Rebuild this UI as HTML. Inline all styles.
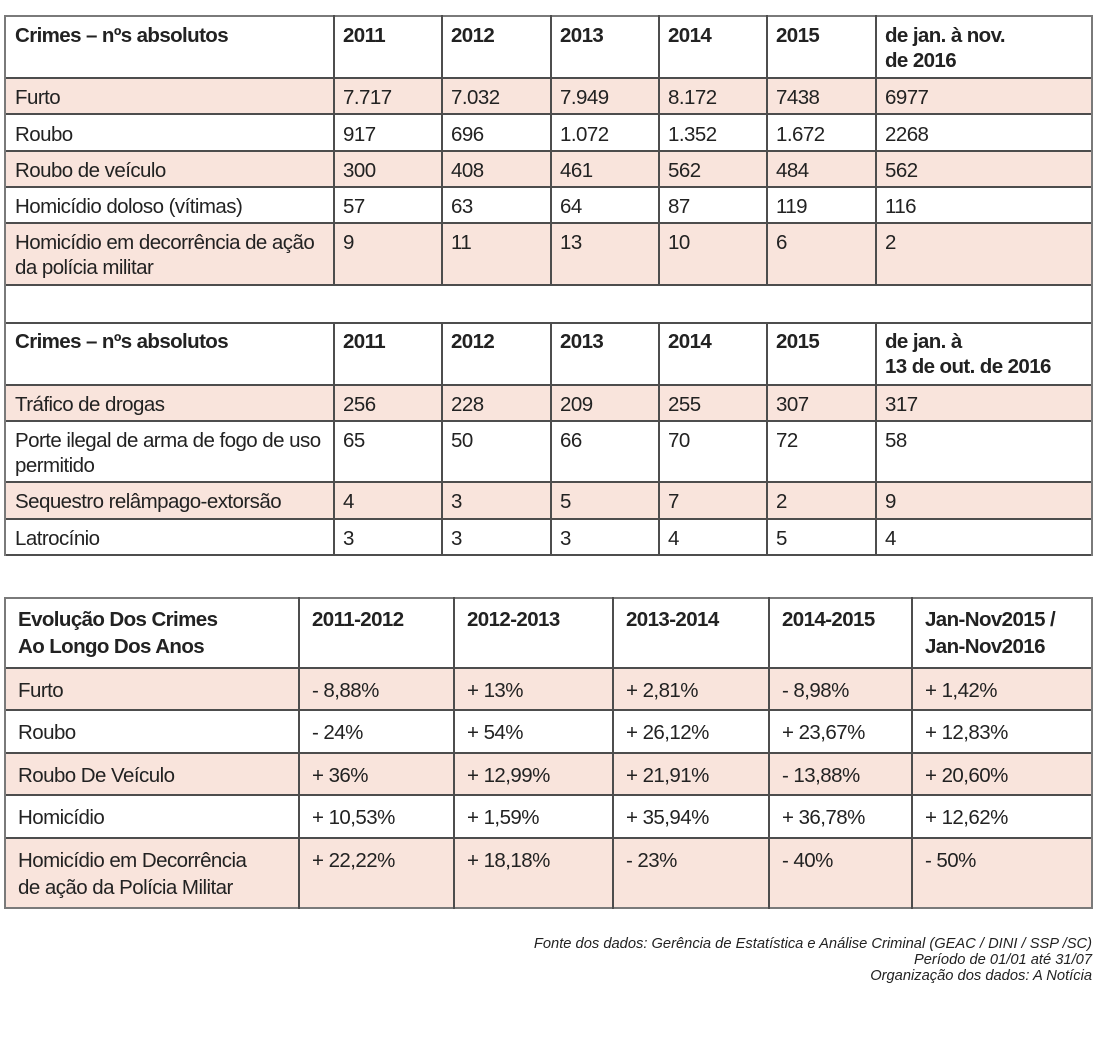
<!DOCTYPE html>
<html><head><meta charset="utf-8">
<style>
html,body{margin:0;padding:0;background:#fff;}
body{width:1095px;height:1063px;position:relative;overflow:hidden;}
.pk{position:absolute;background:#f9e4dc;}
.h{position:absolute;height:2px;background:#4d4d4d;}
.v{position:absolute;width:2px;background:#4d4d4d;}
.o{background:#7a7a7a;}
.t{position:absolute;font-family:"Liberation Sans",sans-serif;font-size:20.5px;line-height:25px;letter-spacing:-0.55px;color:#222;white-space:nowrap;}
.b{font-weight:bold;letter-spacing:-0.6px;}
.q{line-height:27px;}
.f{position:absolute;right:3px;top:937px;text-align:right;font-family:"Liberation Sans",sans-serif;font-style:italic;font-size:14.7px;line-height:15.8px;color:#222;white-space:nowrap;}
</style></head><body>

<!-- TOP TABLE pink rows -->
<div class="pk" style="left:5px;width:1087px;top:78px;height:36px"></div>
<div class="pk" style="left:5px;width:1087px;top:151px;height:36px"></div>
<div class="pk" style="left:5px;width:1087px;top:223px;height:62px"></div>
<div class="pk" style="left:5px;width:1087px;top:385px;height:36px"></div>
<div class="pk" style="left:5px;width:1087px;top:482px;height:37px"></div>

<!-- TOP TABLE horizontal lines -->
<div class="h o" style="left:4px;width:1089px;top:15px"></div>
<div class="h" style="left:4px;width:1089px;top:77px"></div>
<div class="h" style="left:4px;width:1089px;top:113px"></div>
<div class="h" style="left:4px;width:1089px;top:150px"></div>
<div class="h" style="left:4px;width:1089px;top:186px"></div>
<div class="h" style="left:4px;width:1089px;top:222px"></div>
<div class="h" style="left:4px;width:1089px;top:284px"></div>
<div class="h" style="left:4px;width:1089px;top:322px"></div>
<div class="h" style="left:4px;width:1089px;top:384px"></div>
<div class="h" style="left:4px;width:1089px;top:420px"></div>
<div class="h" style="left:4px;width:1089px;top:481px"></div>
<div class="h" style="left:4px;width:1089px;top:518px"></div>
<div class="h" style="left:4px;width:1089px;top:554px"></div>

<!-- TOP TABLE vertical lines -->
<div class="v o" style="left:4px;top:15px;height:541px"></div>
<div class="v o" style="left:1091px;top:15px;height:541px"></div>
<div class="v" style="left:333px;top:15px;height:271px"></div>
<div class="v" style="left:441px;top:15px;height:271px"></div>
<div class="v" style="left:550px;top:15px;height:271px"></div>
<div class="v" style="left:658px;top:15px;height:271px"></div>
<div class="v" style="left:766px;top:15px;height:271px"></div>
<div class="v" style="left:875px;top:15px;height:271px"></div>
<div class="v" style="left:333px;top:322px;height:234px"></div>
<div class="v" style="left:441px;top:322px;height:234px"></div>
<div class="v" style="left:550px;top:322px;height:234px"></div>
<div class="v" style="left:658px;top:322px;height:234px"></div>
<div class="v" style="left:766px;top:322px;height:234px"></div>
<div class="v" style="left:875px;top:322px;height:234px"></div>

<!-- TOP TABLE text: header 1 -->
<div class="t b" style="left:15px;top:23px">Crimes – nºs absolutos</div>
<div class="t b" style="left:343px;top:23px">2011</div>
<div class="t b" style="left:451px;top:23px">2012</div>
<div class="t b" style="left:560px;top:23px">2013</div>
<div class="t b" style="left:668px;top:23px">2014</div>
<div class="t b" style="left:776px;top:23px">2015</div>
<div class="t b" style="left:885px;top:23px">de jan. à nov.<br>de 2016</div>

<!-- Furto -->
<div class="t" style="left:15px;top:85px">Furto</div>
<div class="t" style="left:343px;top:85px">7.717</div>
<div class="t" style="left:451px;top:85px">7.032</div>
<div class="t" style="left:560px;top:85px">7.949</div>
<div class="t" style="left:668px;top:85px">8.172</div>
<div class="t" style="left:776px;top:85px">7438</div>
<div class="t" style="left:885px;top:85px">6977</div>

<!-- Roubo -->
<div class="t" style="left:15px;top:122px">Roubo</div>
<div class="t" style="left:343px;top:122px">917</div>
<div class="t" style="left:451px;top:122px">696</div>
<div class="t" style="left:560px;top:122px">1.072</div>
<div class="t" style="left:668px;top:122px">1.352</div>
<div class="t" style="left:776px;top:122px">1.672</div>
<div class="t" style="left:885px;top:122px">2268</div>

<!-- Roubo de veículo -->
<div class="t" style="left:15px;top:158px">Roubo de veículo</div>
<div class="t" style="left:343px;top:158px">300</div>
<div class="t" style="left:451px;top:158px">408</div>
<div class="t" style="left:560px;top:158px">461</div>
<div class="t" style="left:668px;top:158px">562</div>
<div class="t" style="left:776px;top:158px">484</div>
<div class="t" style="left:885px;top:158px">562</div>

<!-- Homicídio doloso -->
<div class="t" style="left:15px;top:194px">Homicídio doloso (vítimas)</div>
<div class="t" style="left:343px;top:194px">57</div>
<div class="t" style="left:451px;top:194px">63</div>
<div class="t" style="left:560px;top:194px">64</div>
<div class="t" style="left:668px;top:194px">87</div>
<div class="t" style="left:776px;top:194px">119</div>
<div class="t" style="left:885px;top:194px">116</div>

<!-- Homicídio em decorrência -->
<div class="t" style="left:15px;top:230px">Homicídio em decorrência de ação<br>da polícia militar</div>
<div class="t" style="left:343px;top:230px">9</div>
<div class="t" style="left:451px;top:230px">11</div>
<div class="t" style="left:560px;top:230px">13</div>
<div class="t" style="left:668px;top:230px">10</div>
<div class="t" style="left:776px;top:230px">6</div>
<div class="t" style="left:885px;top:230px">2</div>

<!-- header 2 -->
<div class="t b" style="left:15px;top:329px">Crimes – nºs absolutos</div>
<div class="t b" style="left:343px;top:329px">2011</div>
<div class="t b" style="left:451px;top:329px">2012</div>
<div class="t b" style="left:560px;top:329px">2013</div>
<div class="t b" style="left:668px;top:329px">2014</div>
<div class="t b" style="left:776px;top:329px">2015</div>
<div class="t b" style="left:885px;top:329px">de jan. à<br>13 de out. de 2016</div>

<!-- Tráfico -->
<div class="t" style="left:15px;top:392px">Tráfico de drogas</div>
<div class="t" style="left:343px;top:392px">256</div>
<div class="t" style="left:451px;top:392px">228</div>
<div class="t" style="left:560px;top:392px">209</div>
<div class="t" style="left:668px;top:392px">255</div>
<div class="t" style="left:776px;top:392px">307</div>
<div class="t" style="left:885px;top:392px">317</div>

<!-- Porte -->
<div class="t" style="left:15px;top:428px">Porte ilegal de arma de fogo de uso<br>permitido</div>
<div class="t" style="left:343px;top:428px">65</div>
<div class="t" style="left:451px;top:428px">50</div>
<div class="t" style="left:560px;top:428px">66</div>
<div class="t" style="left:668px;top:428px">70</div>
<div class="t" style="left:776px;top:428px">72</div>
<div class="t" style="left:885px;top:428px">58</div>

<!-- Sequestro -->
<div class="t" style="left:15px;top:489px">Sequestro relâmpago-extorsão</div>
<div class="t" style="left:343px;top:489px">4</div>
<div class="t" style="left:451px;top:489px">3</div>
<div class="t" style="left:560px;top:489px">5</div>
<div class="t" style="left:668px;top:489px">7</div>
<div class="t" style="left:776px;top:489px">2</div>
<div class="t" style="left:885px;top:489px">9</div>

<!-- Latrocínio -->
<div class="t" style="left:15px;top:526px">Latrocínio</div>
<div class="t" style="left:343px;top:526px">3</div>
<div class="t" style="left:451px;top:526px">3</div>
<div class="t" style="left:560px;top:526px">3</div>
<div class="t" style="left:668px;top:526px">4</div>
<div class="t" style="left:776px;top:526px">5</div>
<div class="t" style="left:885px;top:526px">4</div>

<!-- BOTTOM TABLE pink rows -->
<div class="pk" style="left:5px;width:1087px;top:668px;height:42px"></div>
<div class="pk" style="left:5px;width:1087px;top:753px;height:42px"></div>
<div class="pk" style="left:5px;width:1087px;top:838px;height:70px"></div>

<!-- BOTTOM TABLE horizontal lines -->
<div class="h o" style="left:4px;width:1089px;top:597px"></div>
<div class="h" style="left:4px;width:1089px;top:667px"></div>
<div class="h" style="left:4px;width:1089px;top:709px"></div>
<div class="h" style="left:4px;width:1089px;top:752px"></div>
<div class="h" style="left:4px;width:1089px;top:794px"></div>
<div class="h" style="left:4px;width:1089px;top:837px"></div>
<div class="h o" style="left:4px;width:1089px;top:907px"></div>

<!-- BOTTOM TABLE vertical lines -->
<div class="v o" style="left:4px;top:597px;height:312px"></div>
<div class="v o" style="left:1091px;top:597px;height:312px"></div>
<div class="v" style="left:298px;top:597px;height:312px"></div>
<div class="v" style="left:453px;top:597px;height:312px"></div>
<div class="v" style="left:612px;top:597px;height:312px"></div>
<div class="v" style="left:768px;top:597px;height:312px"></div>
<div class="v" style="left:911px;top:597px;height:312px"></div>

<!-- BOTTOM TABLE text -->
<div class="t q b" style="left:18px;top:606px">Evolução Dos Crimes<br>Ao Longo Dos Anos</div>
<div class="t q b" style="left:312px;top:606px">2011-2012</div>
<div class="t q b" style="left:467px;top:606px">2012-2013</div>
<div class="t q b" style="left:626px;top:606px">2013-2014</div>
<div class="t q b" style="left:782px;top:606px">2014-2015</div>
<div class="t q b" style="left:925px;top:606px">Jan-Nov2015 /<br>Jan-Nov2016</div>

<div class="t q" style="left:18px;top:677px">Furto</div>
<div class="t q" style="left:312px;top:677px">- 8,88%</div>
<div class="t q" style="left:467px;top:677px">+ 13%</div>
<div class="t q" style="left:626px;top:677px">+ 2,81%</div>
<div class="t q" style="left:782px;top:677px">- 8,98%</div>
<div class="t q" style="left:925px;top:677px">+ 1,42%</div>

<div class="t q" style="left:18px;top:719px">Roubo</div>
<div class="t q" style="left:312px;top:719px">- 24%</div>
<div class="t q" style="left:467px;top:719px">+ 54%</div>
<div class="t q" style="left:626px;top:719px">+ 26,12%</div>
<div class="t q" style="left:782px;top:719px">+ 23,67%</div>
<div class="t q" style="left:925px;top:719px">+ 12,83%</div>

<div class="t q" style="left:18px;top:762px">Roubo De Veículo</div>
<div class="t q" style="left:312px;top:762px">+ 36%</div>
<div class="t q" style="left:467px;top:762px">+ 12,99%</div>
<div class="t q" style="left:626px;top:762px">+ 21,91%</div>
<div class="t q" style="left:782px;top:762px">- 13,88%</div>
<div class="t q" style="left:925px;top:762px">+ 20,60%</div>

<div class="t q" style="left:18px;top:804px">Homicídio</div>
<div class="t q" style="left:312px;top:804px">+ 10,53%</div>
<div class="t q" style="left:467px;top:804px">+ 1,59%</div>
<div class="t q" style="left:626px;top:804px">+ 35,94%</div>
<div class="t q" style="left:782px;top:804px">+ 36,78%</div>
<div class="t q" style="left:925px;top:804px">+ 12,62%</div>

<div class="t q" style="left:18px;top:847px">Homicídio em Decorrência<br>de ação da Polícia Militar</div>
<div class="t q" style="left:312px;top:847px">+ 22,22%</div>
<div class="t q" style="left:467px;top:847px">+ 18,18%</div>
<div class="t q" style="left:626px;top:847px">- 23%</div>
<div class="t q" style="left:782px;top:847px">- 40%</div>
<div class="t q" style="left:925px;top:847px">- 50%</div>

<!-- FOOTER -->
<div class="f">Fonte dos dados: Gerência de Estatística e Análise Criminal (GEAC / DINI / SSP /SC)<br>Período de 01/01 até 31/07<br>Organização dos dados: A Notícia</div>

</body></html>
